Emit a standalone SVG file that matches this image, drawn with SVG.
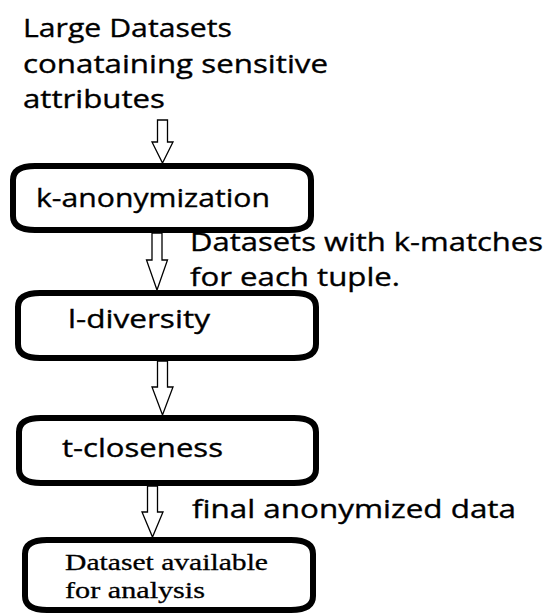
<svg xmlns="http://www.w3.org/2000/svg" width="550" height="614" viewBox="0 0 550 614">
  <style>
    .box { fill: #ffffff; stroke: #000000; stroke-width: 6; stroke-linejoin: round; }
    .arrow { fill: #ffffff; stroke: #000000; stroke-width: 1.3; stroke-linejoin: miter; }
    .sans { font-family: "Open Sans", "Liberation Sans", sans-serif; font-size: 26px; fill: #000000; stroke: #000000; stroke-width: 0.35; }
    .serif { font-family: "Liberation Serif", "DejaVu Serif", serif; font-size: 24px; fill: #000000; stroke: #000000; stroke-width: 0.3; }
  </style>
  <rect x="0" y="0" width="550" height="614" fill="#ffffff"/>

  <!-- source description -->
  <g id="input">
    <text class="sans" x="23" y="37" textLength="209" lengthAdjust="spacingAndGlyphs">Large Datasets</text>
    <text class="sans" x="23" y="73" textLength="305" lengthAdjust="spacingAndGlyphs">conataining sensitive</text>
    <text class="sans" x="23" y="108" textLength="142" lengthAdjust="spacingAndGlyphs">attributes</text>
  </g>

  <!-- hollow block arrows between stages, with their labels -->
  <g id="connectors">
    <path class="arrow" d="M157.5,120 L167.5,120 L167.5,142 L173,142 L162.5,163 L152,142 L157.5,142 Z"/>
    <path class="arrow" d="M152,233 L162,233 L162,260 L167.5,260 L157,290 L146.5,260 L152,260 Z"/>
    <path class="arrow" d="M157.5,361 L167.5,361 L167.5,387 L173,387 L162.5,415 L152,387 L157.5,387 Z"/>
    <path class="arrow" d="M147.5,486 L157.5,486 L157.5,512 L163,512 L152.5,537 L142,512 L147.5,512 Z"/>
    <text class="sans" x="190" y="251" textLength="353" lengthAdjust="spacingAndGlyphs">Datasets with k-matches</text>
    <text class="sans" x="190" y="286" textLength="210" lengthAdjust="spacingAndGlyphs">for each tuple.</text>
    <text class="sans" x="192" y="518" textLength="324" lengthAdjust="spacingAndGlyphs">final anonymized data</text>
  </g>

  <g id="k-anonymization">
    <path class="box" d="M35,166 L289,166 Q311,166 311,180 L311,216 Q311,230 289,230 L35,230 Q13,230 13,216 L13,180 Q13,166 35,166 Z"/>
    <text class="sans" x="36" y="207" textLength="234" lengthAdjust="spacingAndGlyphs">k-anonymization</text>
  </g>

  <g id="l-diversity">
    <path class="box" d="M40,293 L294,293 Q316,293 316,307 L316,344 Q316,358 294,358 L40,358 Q18,358 18,344 L18,307 Q18,293 40,293 Z"/>
    <text class="sans" x="68" y="328" textLength="142" lengthAdjust="spacingAndGlyphs">l-diversity</text>
  </g>

  <g id="t-closeness">
    <path class="box" d="M41,418 L294,418 Q316,418 316,432 L316,469 Q316,483 294,483 L41,483 Q19,483 19,469 L19,432 Q19,418 41,418 Z"/>
    <text class="sans" x="62" y="457" textLength="161" lengthAdjust="spacingAndGlyphs">t-closeness</text>
  </g>

  <g id="output">
    <path class="box" d="M47,540 L291,540 Q313,540 313,554 L313,596 Q313,610 291,610 L47,610 Q25,610 25,596 L25,554 Q25,540 47,540 Z"/>
    <text class="serif" x="65" y="570" textLength="203" lengthAdjust="spacingAndGlyphs">Dataset available</text>
    <text class="serif" x="65" y="598" textLength="140" lengthAdjust="spacingAndGlyphs">for analysis</text>
  </g>
</svg>
